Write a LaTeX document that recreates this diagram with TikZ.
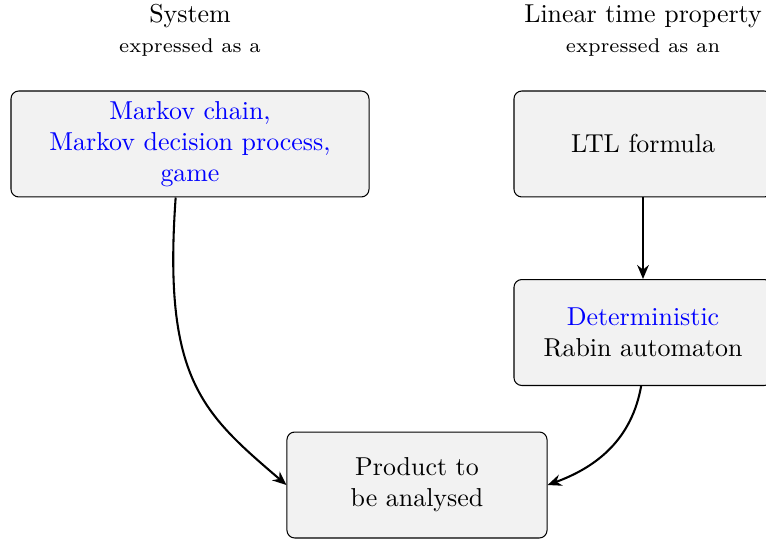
\documentclass[tikz,border=0pt]{standalone}
\usetikzlibrary{arrows.meta}
\newcommand{\subtxt}[1]{\scalebox{1.1}{\scriptsize #1}}
\begin{document}
\begin{tikzpicture}[x=0.386pt,y=-0.386pt,
  box/.style={draw=black, line width=0.4pt, fill=black!5, rounded corners=3pt,
    align=center, inner sep=0pt, minimum height=40.9pt},
  head/.style={align=center, inner sep=0pt},
  sub/.style={align=center, inner sep=0pt},
  conn/.style={line width=0.8pt, -{Stealth[length=5.4pt,width=4.5pt,inset=1.8pt]}}]
\useasboundingbox (0,0) rectangle (766,540);
\clip (0,0) rectangle (766,540);
\node[head] (hs) at (190,16) {System};
\node[sub] (hse) at (190,48) {\subtxt{expressed as a}};
\node[head] (hl) at (643,16) {Linear time property};
\node[sub] (hle) at (643,48) {\subtxt{expressed as an}};
\node[box, minimum width=138.2pt] (A) at (190,144)
  {\textcolor{blue}{Markov chain,}\\\textcolor{blue}{Markov decision process,}\\\textcolor{blue}{game}};
\node[box, minimum width=99.6pt] (B) at (643,144) {LTL formula};
\node[box, minimum width=99.6pt] (C) at (643,332.5)
  {\textcolor{blue}{Deterministic}\\Rabin automaton};
\node[box, minimum width=100.4pt] (D) at (417,485) {Product to\\be analysed};
\draw[conn] (B.south) -- (C.north);
\draw[conn] (A.-105) .. controls +(-13,182) and +(-84,-72) .. (D.west);
\draw[conn] (C.-92) to[out=-100, in=20] (D.east);
\end{tikzpicture}
\end{document}
